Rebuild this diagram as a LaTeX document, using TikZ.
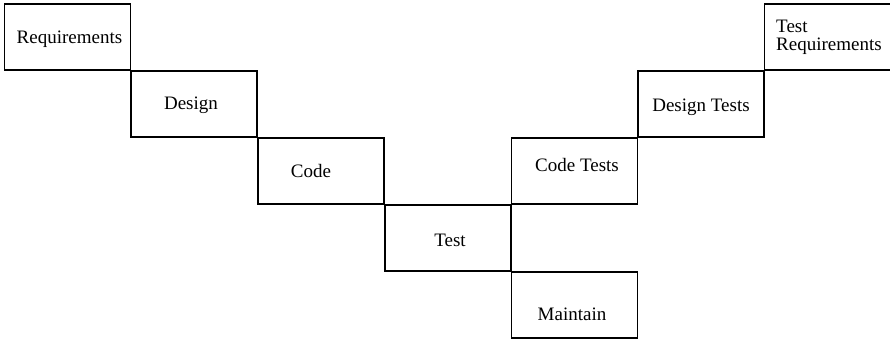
\documentclass[tikz,border=0pt]{standalone}
\usepackage{fontspec}
\setmainfont{Liberation Serif}
\begin{document}
\begin{tikzpicture}[x=1pt,y=1pt,
  box/.style={draw=black, line width=1.1pt, minimum width=126pt, minimum height=66pt, inner sep=0pt, outer sep=0pt},
  lbl/.style={inner sep=0pt, font=\fontsize{19}{22}\selectfont, anchor=base}]
\useasboundingbox (0,0) rectangle (890,-339);
% boxes
\node[box] (req)   at (67.5,-37)  {};
\node[box] (des)   at (194,-104)  {};
\node[box] (cod)   at (321,-171)  {};
\node[box] (tst)   at (448,-238)  {};
\node[box] (mnt)   at (574.5,-305) {};
\node[box] (ctst)  at (574.5,-171) {};
\node[box] (dtst)  at (701,-104)  {};
\node[box] (treq)  at (827.5,-37) {};
% labels
\node[lbl] (lreq)  at (69.5,-43.3) {Requirements};
\node[lbl] (ldes)  at (191,-110)   {Design};
\node[lbl] (lcod)  at (311,-177.3) {Code};
\node[lbl] (ltst)  at (450,-246)   {Test};
\node[lbl] (lctst) at (577,-171.7) {Code Tests};
\node[lbl] (lmnt)  at (572,-320)   {Maintain};
\node[lbl] (ldtst) at (701,-111.7) {Design Tests};
\node[lbl, anchor=base west] (ltreqa) at (776,-32.7) {Test};
\node[lbl, anchor=base west] (ltreqb) at (776,-50.7) {Requirements};
\end{tikzpicture}
\end{document}
